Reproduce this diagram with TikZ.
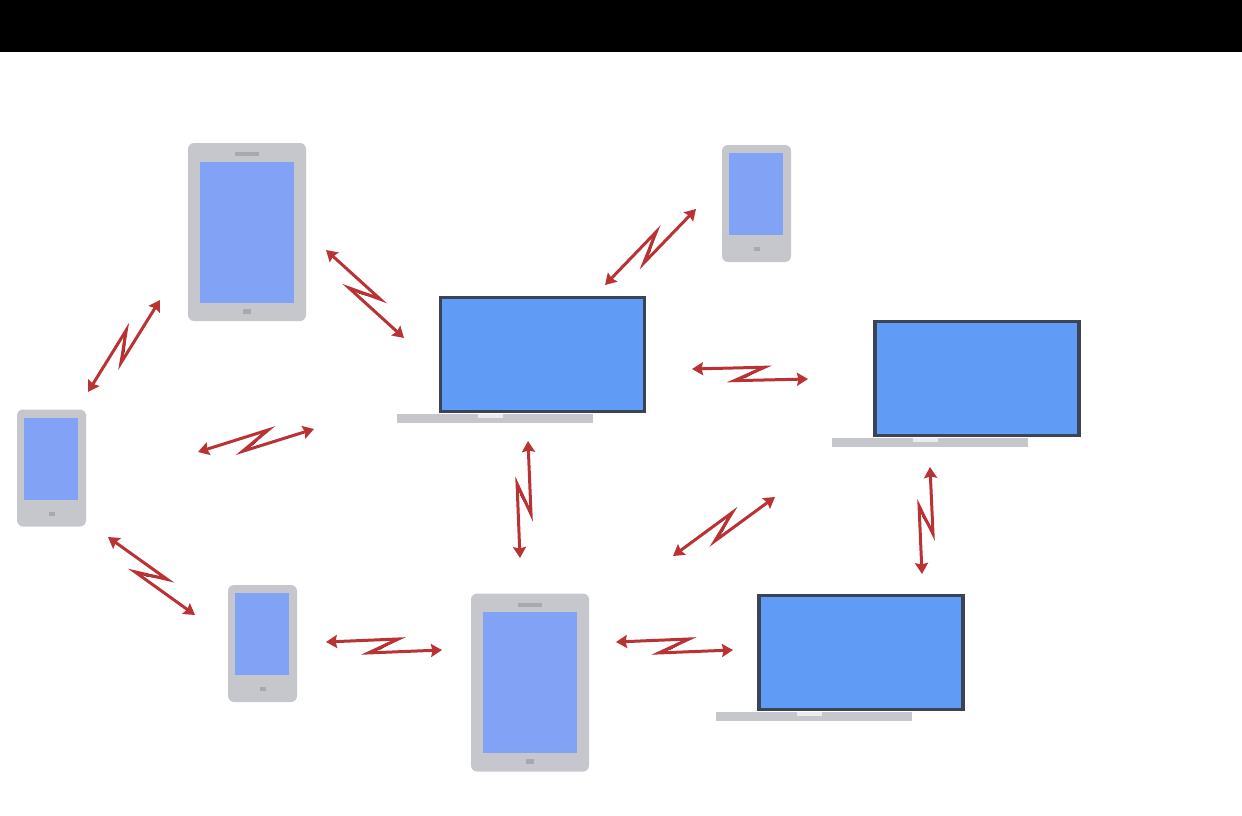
\documentclass[tikz,border=0pt]{standalone}
\usepackage{tikz}
\usetikzlibrary{arrows.meta,calc}

\definecolor{casegray}{RGB}{198,199,204}
\definecolor{keygray}{RGB}{168,169,174}
\definecolor{padblue}{RGB}{130,162,245}
\definecolor{lapblue}{RGB}{96,156,245}
\definecolor{bezeldark}{RGB}{58,68,84}
\definecolor{zapred}{RGB}{186,50,52}
\definecolor{zapcorered}{RGB}{214,62,58}

\tikzset{
  part/.style={inner sep=0pt, outer sep=0pt, minimum width=#1},
  tablet/.pic={
    \node[part=118pt, minimum height=178pt, fill=casegray, rounded corners=6pt] (-body) at (0,0) {};
    \node[part=94pt, minimum height=141pt, fill=padblue] (-screen) at (0,0) {};
    \node[part=24pt, minimum height=4pt, fill=keygray] (-speaker) at (0,-78) {};
    \node[part=8pt, minimum height=5pt, fill=keygray] (-button) at (0,79) {};
  },
  phone/.pic={
    \node[part=69pt, minimum height=117pt, fill=casegray, rounded corners=6pt] (-body) at (0,0) {};
    \node[part=54pt, minimum height=82pt, fill=padblue] (-screen) at (-0.5,-9.5) {};
    \node[part=6pt, minimum height=4pt, fill=keygray] (-button) at (0,45.5) {};
  },
  laptop/.pic={
    \node[part=196pt, minimum height=9pt, fill=casegray] (-base) at (-47.5,64) {};
    \node[part=25pt, minimum height=4pt, fill=white!65!casegray] (-notch) at (-52,61) {};
    \node[part=204pt, minimum height=114pt, fill=lapblue, draw=bezeldark, line width=3.5pt] (-body) at (0,0) {};
  },
  zap/.style={<->, >={Stealth[length=11pt,width=13pt,inset=1.5pt]}, draw=zapred, line width=3pt, miter limit=10,
    to path={-- ($(\tikztostart)!.62!(\tikztotarget)!8pt!90:(\tikztotarget)$)
             -- ($(\tikztostart)!.37!(\tikztotarget)!8pt!-90:(\tikztotarget)$)
             -- (\tikztotarget)}},
  zapcore/.style={fill=zapcorered,
    to path={($(\tikztostart)!.62!(\tikztotarget)!8pt!90:(\tikztotarget)$)
             -- ($(\tikztostart)!.53!(\tikztotarget)!3.5pt!90:(\tikztotarget)$)
             -- ($(\tikztostart)!.37!(\tikztotarget)!8pt!-90:(\tikztotarget)$)
             -- ($(\tikztostart)!.47!(\tikztotarget)!3.5pt!-90:(\tikztotarget)$)
             -- cycle}},
}

\begin{document}
\begin{tikzpicture}[x=1pt,y=-1pt]
  \useasboundingbox (0,0) rectangle (1242,816);
  \fill[black] (0,0) rectangle (1242,52);

  \pic (tabTop) at (247,232) {tablet};
  \pic (tabLow) at (530,682.5) {tablet};
  \pic (phoTop) at (756.5,203.5) {phone};
  \pic (phoLeft) at (51.5,468) {phone};
  \pic (phoLow) at (262.5,643.5) {phone};
  \pic (lapMid) at (542.5,354.5) {laptop};
  \pic (lapRight) at (977,378.5) {laptop};
  \pic (lapLow) at (861,652.5) {laptop};

  \coordinate (z1a) at (326,250);  \coordinate (z1b) at (404,338);
  \coordinate (z2a) at (605,285);  \coordinate (z2b) at (696,209);
  \coordinate (z3a) at (88,392);   \coordinate (z3b) at (160,300);
  \coordinate (z4a) at (198,452);  \coordinate (z4b) at (314,429);
  \coordinate (z5a) at (108,537);  \coordinate (z5b) at (195,615);
  \coordinate (z6a) at (692,369);  \coordinate (z6b) at (808,379);
  \coordinate (z7a) at (528,441);  \coordinate (z7b) at (520,558);
  \coordinate (z8a) at (673,556);  \coordinate (z8b) at (775,497);
  \coordinate (z9a) at (930,467);  \coordinate (z9b) at (922,574);
  \coordinate (z10a) at (326,642); \coordinate (z10b) at (442,650);
  \coordinate (z11a) at (616,642); \coordinate (z11b) at (733,650);

  \foreach \i in {1,...,11}
    \path (z\i a) edge[zapcore] (z\i b)
          (z\i a) edge[zap] (z\i b);
\end{tikzpicture}
\end{document}
